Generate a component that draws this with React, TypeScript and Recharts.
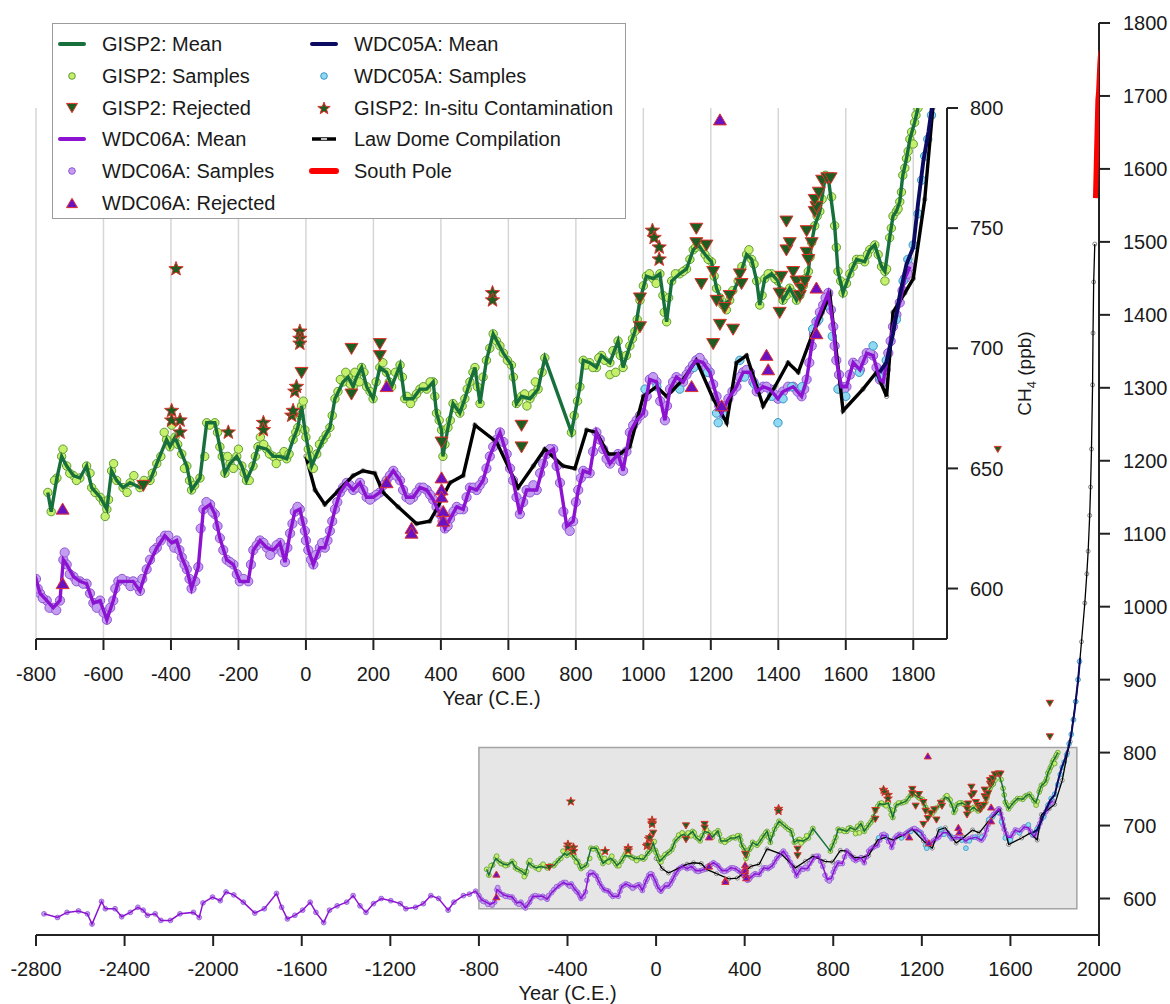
import React from "react";
import {
  ComposedChart,
  Line,
  Scatter,
  XAxis,
  YAxis,
  CartesianGrid,
  ReferenceArea,
  Legend,
} from "recharts";

type Pt = [number, number];

// axis ticks
const mainYearTicks = [-2800, -2400, -2000, -1600, -1200, -800, -400, 0, 400, 800, 1200, 1600, 2000];
const mainPpbTicks = [600, 700, 800, 900, 1000, 1100, 1200, 1300, 1400, 1500, 1600, 1700, 1800];
const insetYearTicks = [-800, -600, -400, -200, 0, 200, 400, 600, 800, 1000, 1200, 1400, 1600, 1800];
const insetPpbTicks = [600, 650, 700, 750, 800];

// GISP2 (Greenland) [year, ppb]
const gisp2Mean: Pt[] = [
  [-765, 640], [-755, 632], [-738, 646], [-724, 655], [-709, 651], [-689, 647], [-670, 646], [-650, 651],
  [-635, 642], [-610, 638], [-590, 633], [-576, 649], [-561, 645], [-542, 642], [-521, 644], [-492, 642],
  [-462, 645], [-442, 652], [-413, 662], [-403, 659], [-388, 663], [-368, 656], [-353, 651], [-339, 641],
  [-314, 646], [-294, 669], [-270, 669], [-255, 659], [-240, 648], [-225, 652], [-205, 655], [-190, 651],
  [-176, 645], [-157, 651], [-142, 659], [-116, 658], [-97, 655], [-77, 655], [-57, 654], [-38, 662],
  [-24, 667], [-13, 676], [-3, 666], [7, 658], [17, 651], [32, 656], [51, 662], [71, 667], [86, 679],
  [110, 686], [125, 688], [140, 684], [150, 688], [165, 692], [180, 684], [199, 679], [219, 692], [239, 690],
  [254, 684], [279, 693], [293, 679], [317, 679], [338, 683], [358, 683], [377, 686], [387, 673], [402, 666],
  [406, 655], [421, 667], [436, 677], [456, 673], [471, 679], [486, 686], [501, 692], [516, 677], [535, 695],
  [555, 706], [585, 698], [609, 693], [624, 677], [639, 680], [664, 679], [688, 683], [708, 696], [787, 665],
  [812, 684], [822, 695], [841, 694], [861, 692], [876, 697], [901, 694], [925, 703], [940, 692], [960, 701],
  [975, 707], [990, 720], [1009, 730], [1029, 729], [1049, 731], [1069, 711], [1084, 728], [1108, 731],
  [1128, 733], [1148, 741], [1163, 743], [1183, 739], [1202, 736], [1217, 725], [1236, 718], [1256, 720],
  [1281, 728], [1306, 739], [1321, 737], [1336, 728], [1345, 718], [1360, 729], [1380, 731], [1399, 728],
  [1414, 720], [1434, 725], [1454, 720], [1474, 726], [1489, 732], [1499, 744], [1508, 751], [1523, 757],
  [1540, 772], [1548, 771], [1567, 751], [1577, 732], [1592, 723], [1612, 731], [1632, 737], [1656, 736],
  [1671, 741], [1686, 743], [1706, 734], [1716, 732], [1730, 746], [1740, 755], [1750, 757], [1760, 761],
  [1769, 772], [1780, 779], [1790, 787], [1804, 794], [1814, 800],
];
const gisp2Scatter: Pt[] = [
  [-745, 645], [-720, 658], [-700, 648], [-680, 645], [-640, 648], [-625, 640], [-600, 636], [-595, 630],
  [-585, 637], [-570, 652], [-530, 640], [-510, 647], [-480, 645], [-455, 648], [-430, 655], [-420, 665],
  [-398, 668], [-380, 660], [-360, 650], [-345, 645], [-330, 643], [-300, 655], [-285, 668], [-262, 665],
  [-248, 655], [-232, 655], [-215, 650], [-200, 658], [-183, 648], [-168, 645], [-150, 655], [-135, 663],
  [-125, 660], [-108, 656], [-88, 652], [-65, 657], [-50, 656], [-30, 665], [-18, 672], [-8, 678], [0, 663],
  [12, 655], [22, 650], [40, 660], [60, 664], [78, 672], [95, 682], [102, 687], [118, 690], [132, 685],
  [145, 690], [158, 686], [172, 690], [190, 682], [208, 686], [228, 694], [247, 686], [265, 690], [286, 688],
  [300, 680], [310, 677], [328, 681], [348, 684], [368, 686], [382, 680], [395, 670], [412, 660], [428, 670],
  [445, 675], [463, 676], [478, 683], [495, 690], [508, 684], [525, 688], [545, 700], [565, 703], [575, 701],
  [597, 695], [615, 688], [630, 678], [648, 681], [655, 676], [672, 681], [680, 686], [700, 690], [795, 672],
  [805, 678], [830, 693], [850, 692], [868, 696], [885, 695], [901, 689], [910, 699], [918, 690], [932, 697],
  [950, 697], [968, 704], [982, 712], [1000, 726], [1018, 731], [1038, 727], [1058, 722], [1062, 715],
  [1075, 721], [1095, 731], [1118, 732], [1138, 737], [1155, 742], [1173, 742], [1192, 737], [1210, 730],
  [1227, 721], [1246, 716], [1265, 724], [1292, 734], [1313, 741], [1328, 735], [1352, 722], [1370, 731],
  [1390, 729], [1406, 724], [1424, 722], [1444, 723], [1464, 722], [1480, 729], [1494, 738], [1515, 755],
  [1530, 762], [1558, 763], [1572, 742], [1585, 728], [1602, 727], [1622, 734], [1644, 737], [1664, 739],
  [1696, 739], [1716, 728], [1721, 733], [1735, 750], [1755, 758], [1765, 765], [1775, 775], [1785, 782],
  [1795, 790], [1800, 785], [1808, 797],
];
const gisp2Rejected: Pt[] = [
  [-482, 643], [-13, 690], [135, 700], [135, 681], [219, 702], [219, 697], [402, 661], [639, 668], [639, 659],
  [990, 721], [990, 709], [1157, 750], [1157, 744], [1172, 727], [1187, 743], [1207, 732], [1207, 702],
  [1217, 720], [1227, 710], [1241, 717], [1256, 722], [1266, 708], [1286, 731], [1291, 727], [1404, 723],
  [1404, 715], [1409, 730], [1424, 753], [1424, 741], [1434, 744], [1444, 732], [1454, 728], [1464, 722],
  [1469, 725], [1479, 728], [1484, 749], [1484, 740], [1489, 737], [1499, 744], [1508, 757], [1513, 759],
  [1508, 762], [1520, 765], [1530, 770], [1545, 771], [1555, 771], [1543, 1216], [1778, 868], [1778, 822],
];
const gisp2InSitu: Pt[] = [
  [-398, 674], [-398, 670], [-385, 733], [-373, 670], [-373, 665], [-230, 665], [-126, 669], [-126, 666],
  [-42, 672], [-38, 674], [-33, 682], [-28, 684], [-18, 707], [-18, 704], [-18, 702], [553, 723], [553, 720],
  [1027, 749], [1032, 746], [1047, 742], [1047, 737],
];

// WDC06A (West Antarctica)
const wdc06aMean: Pt[] = [
  [-2764, 579], [-2703, 574], [-2660, 581], [-2608, 583], [-2568, 579], [-2547, 565], [-2504, 596],
  [-2487, 586], [-2443, 586], [-2413, 575], [-2374, 581], [-2340, 588], [-2316, 584], [-2297, 577],
  [-2262, 579], [-2236, 570], [-2193, 570], [-2150, 579], [-2089, 581], [-2063, 574], [-2046, 594],
  [-2003, 602], [-1968, 597], [-1942, 609], [-1907, 605], [-1864, 595], [-1812, 580], [-1769, 586],
  [-1714, 607], [-1691, 588], [-1665, 572], [-1631, 577], [-1596, 584], [-1562, 595], [-1536, 581],
  [-1501, 567], [-1475, 584], [-1440, 590], [-1397, 595], [-1368, 604], [-1337, 590], [-1310, 581],
  [-1276, 593], [-1241, 600], [-1198, 597], [-1155, 593], [-1130, 586], [-1086, 588], [-1051, 593],
  [-1017, 604], [-982, 600], [-939, 584], [-913, 595], [-870, 604], [-843, 606], [-815, 610], [-800, 604],
  [-788, 598], [-768, 595], [-749, 592], [-729, 595], [-719, 612], [-709, 610], [-689, 605], [-670, 603],
  [-650, 602], [-630, 594], [-610, 595], [-590, 587], [-571, 595], [-556, 603], [-531, 603], [-512, 603],
  [-492, 599], [-472, 608], [-442, 617], [-418, 622], [-398, 619], [-383, 620], [-368, 613], [-353, 608],
  [-339, 600], [-319, 609], [-304, 633], [-284, 635], [-270, 631], [-255, 621], [-235, 612], [-215, 610],
  [-196, 603], [-171, 603], [-156, 616], [-136, 620], [-116, 617], [-97, 616], [-77, 619], [-62, 611],
  [-47, 623], [-33, 632], [-18, 633], [-3, 624], [7, 616], [22, 610], [41, 617], [56, 617], [71, 624],
  [86, 633], [101, 640], [121, 644], [140, 641], [160, 644], [180, 638], [199, 638], [219, 640], [239, 645],
  [259, 649], [279, 645], [298, 638], [318, 638], [338, 642], [358, 641], [377, 637], [397, 631], [412, 625],
  [427, 629], [447, 634], [466, 633], [486, 642], [506, 641], [525, 645], [545, 655], [565, 662], [575, 665],
  [595, 656], [614, 645], [634, 631], [654, 641], [684, 641], [713, 656], [733, 658], [753, 644], [773, 626],
  [792, 628], [807, 641], [822, 649], [841, 648], [861, 665], [881, 658], [901, 652], [925, 656], [940, 649],
  [960, 665], [980, 670], [1000, 673], [1019, 687], [1039, 686], [1064, 670], [1079, 683], [1098, 688],
  [1118, 686], [1137, 691], [1157, 695], [1177, 694], [1197, 690], [1217, 680], [1232, 673], [1252, 679],
  [1276, 684], [1296, 690], [1316, 690], [1336, 682], [1355, 684], [1375, 683], [1399, 679], [1414, 682],
  [1444, 684], [1469, 680], [1484, 687], [1499, 701], [1513, 711], [1533, 718], [1548, 723], [1563, 709],
  [1572, 695], [1587, 684], [1602, 684], [1622, 694], [1642, 691], [1662, 698], [1681, 697], [1701, 687],
  [1711, 686], [1726, 698], [1740, 709], [1760, 719], [1775, 729], [1790, 734],
];
const wdc06aScatter: Pt[] = [
  [-795, 600], [-780, 596], [-760, 592], [-740, 591], [-715, 615], [-700, 606], [-680, 603], [-660, 602],
  [-640, 598], [-620, 592], [-600, 590], [-580, 592], [-565, 600], [-545, 604], [-520, 601], [-500, 601],
  [-485, 604], [-462, 612], [-450, 616], [-430, 620], [-408, 622], [-390, 617], [-375, 616], [-360, 610],
  [-345, 604], [-328, 603], [-312, 625], [-295, 636], [-277, 632], [-262, 626], [-245, 616], [-225, 611],
  [-205, 606], [-185, 604], [-163, 610], [-146, 618], [-126, 619], [-106, 614], [-87, 618], [-70, 615],
  [-55, 617], [-40, 627], [-25, 634], [-10, 628], [0, 620], [15, 612], [30, 614], [48, 619], [64, 620],
  [78, 628], [93, 636], [110, 642], [130, 643], [150, 642], [170, 641], [190, 637], [209, 639], [229, 643],
  [249, 647], [268, 647], [288, 641], [308, 637], [328, 640], [348, 642], [368, 639], [387, 634], [405, 628],
  [420, 626], [437, 632], [456, 633], [476, 638], [496, 642], [515, 643], [535, 650], [555, 659], [585, 661],
  [605, 650], [624, 638], [644, 636], [664, 640], [674, 643], [694, 648], [703, 652], [723, 658], [743, 651],
  [763, 632], [782, 624], [800, 636], [815, 646], [831, 648], [851, 657], [871, 662], [891, 654], [912, 654],
  [932, 653], [950, 657], [970, 668], [990, 672], [1010, 680], [1029, 688], [1050, 678], [1070, 676],
  [1088, 686], [1108, 687], [1128, 689], [1147, 693], [1167, 696], [1187, 692], [1207, 685], [1225, 676],
  [1242, 676], [1264, 682], [1286, 688], [1306, 691], [1326, 686], [1345, 683], [1365, 684], [1387, 681],
  [1406, 680], [1429, 684], [1457, 682], [1477, 683], [1492, 694], [1506, 706], [1523, 715], [1540, 721],
  [1556, 716], [1567, 701], [1580, 689], [1595, 683], [1612, 689], [1632, 693], [1652, 695], [1672, 698],
  [1691, 692], [1718, 691], [1733, 703], [1750, 714], [1768, 724], [1783, 731],
];
const wdc06aRejected: Pt[] = [
  [-721, 633], [-721, 602], [239, 684], [239, 644], [313, 625], [313, 623], [402, 646], [402, 641], [402, 638],
  [407, 632], [407, 628], [1143, 684], [1227, 795], [1232, 676], [1365, 697], [1370, 691], [1513, 725],
  [1513, 706],
];

// WDC05A
const wdc05aMean: Pt[] = [
  [1700, 690], [1720, 694], [1740, 706], [1760, 722], [1780, 735], [1800, 742], [1814, 760], [1830, 778],
  [1845, 790], [1860, 805], [1875, 825], [1890, 858], [1905, 898], [1915, 930],
];
const wdc05aSamples: Pt[] = [
  [1005, 683], [1040, 684], [1108, 683], [1150, 692], [1190, 690], [1217, 673], [1222, 669], [1240, 672],
  [1286, 695], [1300, 688], [1330, 685], [1380, 680], [1399, 669], [1414, 679], [1440, 684], [1470, 684],
  [1502, 708], [1520, 712], [1543, 718], [1560, 705], [1577, 683], [1600, 680], [1640, 690], [1681, 701],
  [1700, 688], [1720, 695], [1750, 712], [1770, 728], [1784, 737], [1800, 743], [1814, 756], [1825, 770],
  [1834, 780], [1843, 787], [1854, 797], [1865, 812], [1875, 825], [1885, 845], [1895, 870], [1905, 900],
  [1912, 925],
];

// Law Dome compilation and South Pole air
const lawDome: Pt[] = [
  [0, 655], [27, 641], [56, 635], [140, 647], [169, 649], [204, 648], [229, 640], [273, 634], [328, 627],
  [367, 628], [387, 633], [427, 644], [466, 647], [501, 668], [565, 661], [629, 642], [674, 651], [708, 658],
  [762, 651], [797, 650], [832, 666], [861, 665], [896, 656], [930, 656], [960, 659], [1000, 680], [1039, 684],
  [1069, 680], [1118, 687], [1157, 695], [1207, 679], [1247, 669], [1276, 694], [1306, 697], [1355, 676],
  [1390, 684], [1429, 694], [1459, 690], [1499, 705], [1553, 722], [1592, 674], [1651, 683], [1691, 690],
  [1721, 680], [1740, 715], [1775, 723], [1800, 729], [1834, 762], [1858, 800], [1870, 815], [1883, 845],
  [1895, 870], [1906, 900], [1921, 952], [1936, 1005], [1945, 1045], [1951, 1076], [1958, 1125],
  [1962, 1164], [1966, 1216], [1971, 1304], [1973, 1375], [1976, 1445], [1981, 1497],
];
const southPole: Pt[] = [
  [1984, 1560], [1988, 1610], [1992, 1660], [1995, 1695], [1998, 1705], [2001, 1725], [2004, 1745], [2008, 1762],
];

const rows = (pts: Pt[]) => pts.map(([year, ppb]) => ({ year, ppb }));

const gisp2MeanRows = rows(gisp2Mean);
const gisp2SampleRows = rows([...gisp2Mean, ...gisp2Scatter]);
const gisp2RejectedRows = rows(gisp2Rejected);
const gisp2InSituRows = rows(gisp2InSitu);
const wdc06aMeanRows = rows(wdc06aMean);
const wdc06aSampleRows = rows([...wdc06aMean, ...wdc06aScatter]);
const wdc06aRejectedRows = rows(wdc06aRejected);
const wdc05aMeanRows = rows(wdc05aMean);
const wdc05aSampleRows = rows(wdc05aSamples);
const lawDomeRows = rows(lawDome);
const southPoleRows = rows(southPole);

const FONT = "'Liberation Sans', Arial, Helvetica, sans-serif";
const INK = "#1a1a1a";
const RED_EDGE = "#e2322a";

const C = {
  gMean: "#17703c",
  gFill: "#c6ef6a",
  gEdge: "#5e9c38",
  gReject: "#1e5d22",
  pMean: "#8c14d0",
  pFill: "#c39ef0",
  pEdge: "#9255d6",
  pReject: "#6a12c2",
  bMean: "#0b0b62",
  bFill: "#90d9f2",
  bEdge: "#3896c2",
};

const starPath = (cx: number, cy: number, R: number) => {
  const r = R * 0.42;
  let d = "";
  for (let i = 0; i < 10; i++) {
    const a = -Math.PI / 2 + (i * Math.PI) / 5;
    const rad = i % 2 === 0 ? R : r;
    d += (i ? "L" : "M") + (cx + rad * Math.cos(a)).toFixed(2) + "," + (cy + rad * Math.sin(a)).toFixed(2);
  }
  return d + "Z";
};

const circleShape = (r: number, fill: string, stroke: string, sw: number) => (p: any) =>
  p.cx == null ? <g /> : <circle cx={p.cx} cy={p.cy} r={r} fill={fill} stroke={stroke} strokeWidth={sw} />;

const downTri = (s: number, fill: string) => (p: any) =>
  p.cx == null ? (
    <g />
  ) : (
    <polygon
      points={`${p.cx - s},${p.cy - s * 0.75} ${p.cx + s},${p.cy - s * 0.75} ${p.cx},${p.cy + s * 0.95}`}
      fill={fill}
      stroke={RED_EDGE}
      strokeWidth={1}
    />
  );

const upTri = (s: number, fill: string) => (p: any) =>
  p.cx == null ? (
    <g />
  ) : (
    <polygon
      points={`${p.cx - s},${p.cy + s * 0.75} ${p.cx + s},${p.cy + s * 0.75} ${p.cx},${p.cy - s * 0.95}`}
      fill={fill}
      stroke={RED_EDGE}
      strokeWidth={1}
    />
  );

const starShape = (R: number) => (p: any) =>
  p.cx == null ? <g /> : <path d={starPath(p.cx, p.cy, R)} fill={C.gReject} stroke={RED_EDGE} strokeWidth={1} />;

interface Sizes {
  line: number;
  law: number;
  lawDot: number;
  dot: number;
  pDot: number;
  edge: number;
  tri: number;
  star: number;
}

const insetSizes: Sizes = { line: 3.4, law: 3.4, lawDot: 2.2, dot: 4.2, pDot: 4.6, edge: 1, tri: 6.5, star: 7.5 };
const mainSizes: Sizes = { line: 1.5, law: 1.3, lawDot: 2, dot: 2.4, pDot: 2.4, edge: 0.8, tri: 3.6, star: 4.6 };

function seriesLayers(s: Sizes) {
  return [
    <Scatter key="p-s" data={wdc06aSampleRows} dataKey="ppb" zIndex={601} isAnimationActive={false}
      shape={circleShape(s.pDot, C.pFill, C.pEdge, s.edge)} />,
    <Scatter key="b-s" data={wdc05aSampleRows} dataKey="ppb" zIndex={602} isAnimationActive={false}
      shape={circleShape(s.dot, C.bFill, C.bEdge, s.edge)} />,
    <Line key="law" data={lawDomeRows} dataKey="ppb" type="linear" stroke="#000" strokeWidth={s.law} zIndex={603}
      dot={{ r: s.lawDot, fill: "#ffffff", stroke: "#6b6b6b", strokeWidth: 0.8 }} isAnimationActive={false} />,
    <Line key="p-m" data={wdc06aMeanRows} dataKey="ppb" type="linear" stroke={C.pMean} strokeWidth={s.line}
      zIndex={604} dot={false} isAnimationActive={false} />,
    <Line key="b-m" data={wdc05aMeanRows} dataKey="ppb" type="linear" stroke={C.bMean} strokeWidth={s.line + 0.5}
      zIndex={605} dot={false} isAnimationActive={false} />,
    <Scatter key="g-s" data={gisp2SampleRows} dataKey="ppb" zIndex={606} isAnimationActive={false}
      shape={circleShape(s.dot, C.gFill, C.gEdge, s.edge)} />,
    <Line key="g-m" data={gisp2MeanRows} dataKey="ppb" type="linear" stroke={C.gMean} strokeWidth={s.line}
      zIndex={607} dot={false} isAnimationActive={false} />,
    <Line key="sp" data={southPoleRows} dataKey="ppb" type="linear" stroke="#ff0000" strokeWidth={5}
      zIndex={608} dot={false} isAnimationActive={false} />,
    <Scatter key="g-r" data={gisp2RejectedRows} dataKey="ppb" zIndex={609} isAnimationActive={false}
      shape={downTri(s.tri, C.gReject)} />,
    <Scatter key="p-r" data={wdc06aRejectedRows} dataKey="ppb" zIndex={610} isAnimationActive={false}
      shape={upTri(s.tri, C.pReject)} />,
    <Scatter key="g-i" data={gisp2InSituRows} dataKey="ppb" zIndex={611} isAnimationActive={false}
      shape={starShape(s.star)} />,
  ];
}

const tickStyle = { fill: INK, fontSize: 20, fontFamily: FONT };
const axisStroke = { stroke: "#222", strokeWidth: 2 };

const CH4Label = (props: any) => {
  const vb = props.viewBox || {};
  const x = (vb.x ?? 947) + 84;
  const y = (vb.y ?? 108) + (vb.height ?? 531) / 2;
  return (
    <text x={x} y={y} transform={`rotate(-90 ${x} ${y})`} textAnchor="middle" fill={INK} fontSize={19} fontFamily={FONT}>
      CH<tspan fontSize={13} dy={5}>4</tspan>
      <tspan dy={-5}> (ppb)</tspan>
    </text>
  );
};

type Icon = "line" | "dot" | "down" | "up" | "star" | "law";
interface Entry {
  label: string;
  icon: Icon;
  color: string;
  edge?: string;
  thick?: number;
}

const legendLeft: Entry[] = [
  { label: "GISP2: Mean", icon: "line", color: C.gMean },
  { label: "GISP2: Samples", icon: "dot", color: C.gFill, edge: C.gEdge },
  { label: "GISP2: Rejected", icon: "down", color: C.gReject },
  { label: "WDC06A: Mean", icon: "line", color: C.pMean },
  { label: "WDC06A: Samples", icon: "dot", color: C.pFill, edge: C.pEdge },
  { label: "WDC06A: Rejected", icon: "up", color: C.pReject },
];
const legendRight: Entry[] = [
  { label: "WDC05A: Mean", icon: "line", color: C.bMean },
  { label: "WDC05A: Samples", icon: "dot", color: C.bFill, edge: C.bEdge },
  { label: "GISP2: In-situ Contamination", icon: "star", color: C.gReject },
  { label: "Law Dome Compilation", icon: "law", color: "#000" },
  { label: "South Pole", icon: "line", color: "#ff0000", thick: 6 },
];

const LegendIcon = ({ e }: { e: Entry }) => {
  let mark: React.ReactNode = null;
  if (e.icon === "line")
    mark = <line x1={3} y1={10} x2={27} y2={10} stroke={e.color} strokeWidth={e.thick ?? 4} strokeLinecap="round" />;
  if (e.icon === "dot") mark = <circle cx={15} cy={10} r={3.3} fill={e.color} stroke={e.edge} strokeWidth={1} />;
  if (e.icon === "down") mark = downTri(5.5, e.color)({ cx: 15, cy: 9.5 });
  if (e.icon === "up") mark = upTri(5.5, e.color)({ cx: 15, cy: 10.5 });
  if (e.icon === "star") mark = starShape(6.5)({ cx: 15, cy: 10.5 });
  if (e.icon === "law")
    mark = (
      <g>
        <line x1={3} y1={10} x2={27} y2={10} stroke="#000" strokeWidth={3.5} />
        <line x1={12} y1={10} x2={18} y2={10} stroke="#fff" strokeWidth={1.5} />
      </g>
    );
  return (
    <svg width={30} height={20} style={{ position: "absolute", left: -15, top: -10 }}>
      {mark}
    </svg>
  );
};

const LegendBox = () => {
  const rowY = (i: number) => 20 + i * 31.8;
  const col = (entries: Entry[], iconX: number, textX: number) =>
    entries.map((e, i) => (
      <React.Fragment key={e.label}>
        <div style={{ position: "absolute", left: iconX, top: rowY(i), width: 0, height: 0 }}>
          <LegendIcon e={e} />
        </div>
        <div
          style={{
            position: "absolute",
            left: textX,
            top: rowY(i) - 12,
            lineHeight: "24px",
            fontSize: 20,
            color: INK,
            whiteSpace: "nowrap",
          }}
        >
          {e.label}
        </div>
      </React.Fragment>
    ));
  return (
    <div
      style={{
        position: "relative",
        width: 574,
        height: 196,
        boxSizing: "border-box",
        border: "1.5px solid #9c9c9c",
        background: "#ffffff",
        fontFamily: FONT,
      }}
    >
      {col(legendLeft, 19, 49)}
      {col(legendRight, 271, 301)}
    </div>
  );
};

const App: React.FC = () => {
  return (
    <div
      style={{
        position: "absolute",
        left: 0,
        top: 0,
        width: 1170,
        height: 1004,
        background: "#ffffff",
        fontFamily: FONT,
        overflow: "hidden",
      }}
    >
      {/* full record, -2800 to present */}
      <div style={{ position: "absolute", left: 0, top: 0 }}>
        <ComposedChart width={1170} height={1004} margin={{ top: 23, right: 0, bottom: 0, left: 36 }}>
          <XAxis
            type="number"
            dataKey="year"
            domain={[-2800, 2000]}
            ticks={mainYearTicks}
            interval={0}
            allowDataOverflow
            height={69}
            tickSize={11}
            tickMargin={16}
            axisLine={axisStroke}
            tickLine={axisStroke}
            tick={tickStyle}
            label={{ value: "Year (C.E.)", position: "insideBottom", offset: 4, fill: INK, fontSize: 20, fontFamily: FONT }}
          />
          <YAxis
            type="number"
            dataKey="ppb"
            orientation="right"
            domain={[550, 1800]}
            ticks={mainPpbTicks}
            interval={0}
            allowDataOverflow
            width={71}
            tickSize={11}
            tickMargin={13}
            axisLine={axisStroke}
            tickLine={axisStroke}
            tick={tickStyle}
          />
          <ReferenceArea
            x1={-800}
            x2={1900}
            y1={586}
            y2={807}
            fill="#e6e6e6"
            fillOpacity={1}
            stroke="#a4a4a4"
            strokeWidth={1.5}
            ifOverflow="visible"
          />
          {seriesLayers(mainSizes)}
        </ComposedChart>
      </div>

      {/* enlarged view, -800 to 1900 */}
      <div style={{ position: "absolute", left: 0, top: 0 }}>
        <ComposedChart width={1050} height={720} margin={{ top: 108, right: 0, bottom: 0, left: 36 }}>
          <CartesianGrid vertical horizontal={false} stroke="#d6d6d6" strokeWidth={1.5} />
          <XAxis
            type="number"
            dataKey="year"
            domain={[-800, 1900]}
            ticks={insetYearTicks}
            interval={0}
            allowDataOverflow
            height={81}
            tickSize={11}
            tickMargin={17}
            axisLine={axisStroke}
            tickLine={axisStroke}
            tick={tickStyle}
            label={{ value: "Year (C.E.)", position: "insideBottom", offset: 15, fill: INK, fontSize: 20, fontFamily: FONT }}
          />
          <YAxis
            type="number"
            dataKey="ppb"
            orientation="right"
            domain={[579, 800]}
            ticks={insetPpbTicks}
            interval={0}
            allowDataOverflow
            width={103}
            tickSize={11}
            tickMargin={12}
            axisLine={axisStroke}
            tickLine={axisStroke}
            tick={tickStyle}
            label={CH4Label}
          />
          {seriesLayers(insetSizes)}
          <Legend
            layout="horizontal"
            verticalAlign="middle"
            align="center"
            wrapperStyle={{ left: 52, top: 23, width: 574, height: 196 }}
            content={() => <LegendBox />}
          />
        </ComposedChart>
      </div>
    </div>
  );
};

export default App;
